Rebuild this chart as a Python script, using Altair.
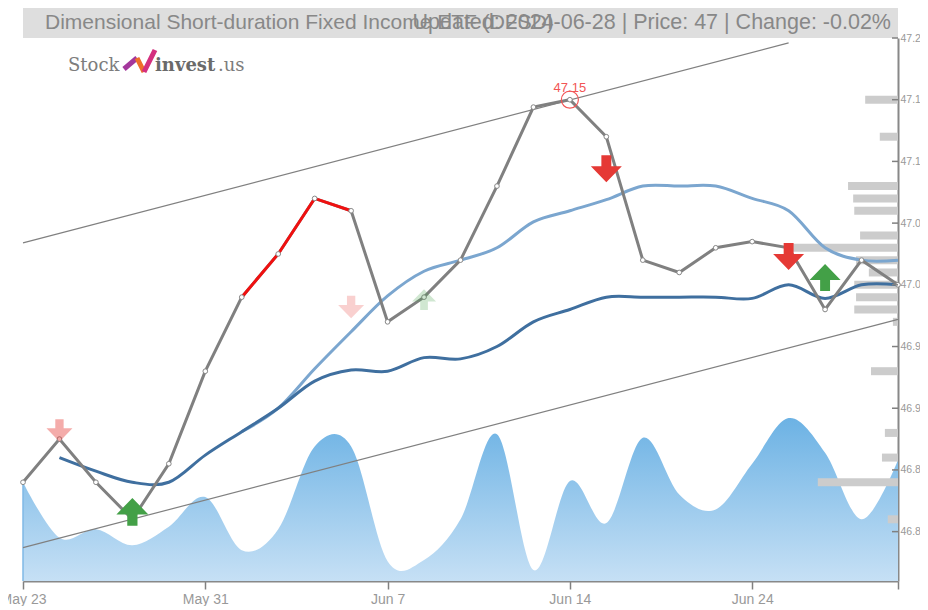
import altair as alt
import pandas as pd

X_LEFT, X_TOP = 23, 38
PLOT_W, PLOT_H = 875, 543
Y_DOMAIN = [46.76, 47.2]
X_DOMAIN = [0, 24]

price = [46.84, 46.875, 46.84, 46.81, 46.855, 46.93, 46.99, 47.025, 47.07, 47.06, 46.97, 46.99, 47.02,
         47.08, 47.144, 47.15, 47.12, 47.02, 47.01, 47.03, 47.035, 47.03, 46.98, 47.02, 47.0]
ma_long_idx = list(range(1, 25))
ma_long = [46.86, 46.849, 46.84, 46.84, 46.862, 46.881, 46.9, 46.922, 46.931, 46.93, 46.941, 46.94,
           46.95, 46.97, 46.98, 46.99, 46.99, 46.99, 46.99, 46.989, 47.0, 46.989, 47.0, 47.0]
ma_short_idx = list(range(6, 25))
ma_short = [46.881, 46.9, 46.932, 46.962, 46.991, 47.011, 47.02, 47.03, 47.051, 47.06, 47.069, 47.08,
            47.08, 47.08, 47.07, 47.06, 47.03, 47.02, 47.02]
volume_shape = [46.84, 46.795, 46.802, 46.789, 46.804, 46.828, 46.785, 46.802, 46.869, 46.869, 46.776,
                46.777, 46.81, 46.879, 46.769, 46.841, 46.807, 46.876, 46.83, 46.818, 46.855, 46.892,
                46.864, 46.81, 46.858]
profile_levels = [47.15, 47.12, 47.08, 47.07, 47.06, 47.04, 47.03, 47.02, 47.01, 47.0, 46.99, 46.98,
                  46.97, 46.93, 46.88, 46.86, 46.84, 46.81]
profile_weights = [0.9, 0.5, 1.37, 1.23, 1.2, 1.04, 3.0, 1.15, 0.8, 1.2, 1.15, 1.2,
                   0.14, 0.74, 0.36, 0.44, 2.2, 0.28]
tick_idx = [0, 5, 10, 15, 20, 24]
tick_labels = ["May 23", "May 31", "Jun 7", "Jun 14", "Jun 24", ""]
y_ticks = [47.2, 47.15, 47.1, 47.05, 47.0, 46.95, 46.9, 46.85, 46.8]
arrows_down = {"idx": [1, 9, 16, 21], "y": [46.882, 46.982, 47.094, 47.023],
               "w": [26, 26, 31, 31], "op": [0.42, 0.24, 1, 1]}
arrows_up = {"idx": [3, 11, 22], "y": [46.816, 46.988, 47.006],
             "w": [32, 24, 31], "op": [1, 0.25, 1]}
channel_upper = {"idx": [0, 21], "y": [47.034, 47.196]}
channel_lower = {"idx": [0, 24], "y": [46.787, 46.972]}

DOWN = "M-0.32,-0.87L0.32,-0.87L0.32,-0.16L1,-0.16L0,0.87L-1,-0.16L-0.32,-0.16Z"
UP = "M-0.32,0.87L0.32,0.87L0.32,0.16L1,0.16L0,-0.87L-1,0.16L-0.32,0.16Z"

idx = list(range(25))
expr = " : ".join(f"datum.value == {i} ? '{l}'" for i, l in zip(tick_idx, tick_labels)) + " : ''"

xs = alt.Scale(domain=X_DOMAIN, nice=False, zero=False, padding=0)
ys = alt.Scale(domain=Y_DOMAIN, nice=False, zero=False, padding=0)
X = alt.X("idx:Q", scale=xs, title=None, axis=alt.Axis(
    values=tick_idx, labelExpr=expr, grid=False, title=None, domainColor="#888888", domainWidth=2,
    tickColor="#808080", tickWidth=1.5, tickSize=8, labelColor="#999999", labelFontSize=14,
    labelFont="Liberation Sans", labelPadding=3, labelOverlap=False, labelFlush=False))
Y = alt.Y("y:Q", scale=ys, title=None, axis=alt.Axis(
    orient="right", values=y_ticks, labelExpr="slice(format(datum.value, '.2f'), 0, 4)", grid=False, title=None,
    domainColor="#888888", domainWidth=2, ticks=False, labelColor="#999999", labelFontSize=10.5, labelPadding=2,
    labelFont="Liberation Sans", labelOverlap=False, labelFlush=False))

band = alt.Chart(pd.DataFrame({"a": [0]})).mark_rect(color="#dedede").encode(
    x=alt.value(0), x2=alt.value(PLOT_W), y=alt.value(-31), y2=alt.value(0))

vdf = pd.DataFrame({"idx": idx, "y": volume_shape, "b": [Y_DOMAIN[0]] * 25})
area = alt.Chart(vdf).mark_area(
    interpolate="cardinal",
    color=alt.Gradient(gradient="linear", x1=0, x2=0, y1=0, y2=1,
                       stops=[alt.GradientStop(color="#6cb2e4", offset=0),
                              alt.GradientStop(color="#c6e0f5", offset=1)]),
).encode(x=X, y=Y, y2="b:Q")
area_edge = alt.Chart(vdf[vdf.idx == 0]).mark_rule(color="#7fb8e6", strokeWidth=1.5).encode(x=X, y=Y, y2="b:Q")

prof = alt.Chart(pd.DataFrame({"y": profile_levels, "w": profile_weights})).transform_calculate(
    idx=f"{X_DOMAIN[1]} - datum.w", end=f"{X_DOMAIN[1]}"
).mark_bar(color="#cccccc", size=8, orient="horizontal").encode(x=X, x2="end:Q", y=Y)

def chan(d):
    return alt.Chart(pd.DataFrame(d)).mark_line(color="#808080", strokeWidth=1.2).encode(x=X, y=Y)

ma_s = alt.Chart(pd.DataFrame({"idx": ma_short_idx, "y": ma_short})).mark_line(
    color="#7ba6cf", strokeWidth=3, interpolate="cardinal").encode(x=X, y=Y)
ma_l = alt.Chart(pd.DataFrame({"idx": ma_long_idx, "y": ma_long})).mark_line(
    color="#3f6f9f", strokeWidth=3, interpolate="cardinal").encode(x=X, y=Y)

pdf = pd.DataFrame({"idx": idx, "y": price})
pline = alt.Chart(pdf).mark_line(color="#808080", strokeWidth=3).encode(x=X, y=Y)
red = alt.Chart(pdf[(pdf.idx >= 6) & (pdf.idx <= 9)]).mark_line(color="#f01010", strokeWidth=3).encode(x=X, y=Y)
pts = alt.Chart(pdf).mark_point(filled=True, fill="white", stroke="#888888", strokeWidth=1, size=22, opacity=1).encode(x=X, y=Y)

peak = pdf[pdf.y == pdf.y.max()]
ring = alt.Chart(peak).mark_point(shape="circle", filled=False, color="#f25555", size=290, strokeWidth=1.2, opacity=1).encode(x=X, y=Y)
peak_t = alt.Chart(peak.assign(t=["47.15"])).mark_text(color="#f25555", fontSize=13, font="Liberation Sans", dy=-12).encode(x=X, y=Y, text="t:N")

def arrows(d, shape, color):
    return alt.Chart(pd.DataFrame(d)).transform_calculate(s="datum.w * datum.w").mark_point(
        shape=shape, filled=True, color=color, strokeWidth=0).encode(
        x=X, y=Y, size=alt.Size("s:Q", scale=None), opacity=alt.Opacity("op:Q", scale=None))

def label(t, x, y, **kw):
    return alt.Chart(pd.DataFrame({"t": [t]})).mark_text(**kw).encode(
        x=alt.value(x - X_LEFT), y=alt.value(y - X_TOP), text="t:N")

title_l = label("Dimensional Short-duration Fixed Income ETF (DFSD)", 45, 29, align="left", baseline="alphabetic",
                font="Liberation Sans", fontSize=21, color="#888888")
title_r = label("Updated: 2024-06-28 | Price: 47 | Change: -0.02%", 891, 29, align="right", baseline="alphabetic",
                font="Liberation Sans", fontSize=21.5, color="#888888")
logo_a = label("Stock", 68, 71, align="left", baseline="alphabetic", font="DejaVu Serif", fontSize=18, color="#7d7d7d", fontWeight=300)
logo_b = label("invest", 155, 71, align="left", baseline="alphabetic", font="DejaVu Serif", fontSize=18, color="#6a6a6a", fontWeight="bold")
logo_c = label(".us", 218, 71, align="left", baseline="alphabetic", font="DejaVu Serif", fontSize=18, color="#7d7d7d")

def seg(x1, y1, x2, y2, c):
    return alt.Chart(pd.DataFrame({"a": [0]})).mark_rule(color=c, strokeWidth=5).encode(
        x=alt.value(x1 - X_LEFT), x2=alt.value(x2 - X_LEFT), y=alt.value(y1 - X_TOP), y2=alt.value(y2 - X_TOP))

icon = [seg(124, 69, 137, 58, "#a4379c"), seg(137, 58, 144, 72, "#ef6f2a"), seg(144, 72, 155, 50, "#d4307f")]

ticks = alt.Chart(pd.DataFrame({"y": y_ticks})).transform_calculate(
    idx=f"{X_DOMAIN[1]} - 0.165", end=f"{X_DOMAIN[1]}"
).mark_rule(color="#808080", strokeWidth=1.5).encode(x=X, x2="end:Q", y=Y)

chart = alt.layer(
    band, area, area_edge, prof, chan(channel_upper), chan(channel_lower), ma_s, ma_l, pline, red, pts, ring, peak_t,
    arrows(arrows_down, DOWN, "#e53935"), arrows(arrows_up, UP, "#43a047"),
    title_l, title_r, logo_a, logo_b, logo_c, *icon, ticks,
).properties(
    width=PLOT_W, height=PLOT_H, autosize="none", background="white",
    padding={"left": 15, "top": 30, "right": 22, "bottom": 25},
).configure_view(stroke=None)

chart.save("out.html", embed_options={"renderer": "svg", "actions": False})
